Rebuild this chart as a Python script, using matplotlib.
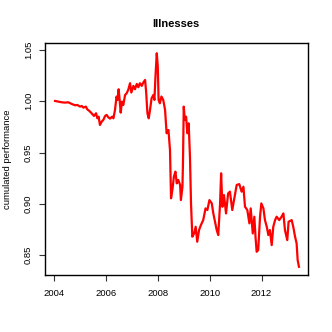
import matplotlib
matplotlib.use("Agg")
import matplotlib.pyplot as plt

# values (decimal year, cumulated performance)
years = [
    2004.04, 2004.17, 2004.30, 2004.42, 2004.55, 2004.68, 2004.81, 2004.90, 2005.00, 2005.07,
    2005.13, 2005.23, 2005.28, 2005.36, 2005.45, 2005.54, 2005.62, 2005.67, 2005.72, 2005.77,
    2005.84, 2005.90, 2005.97, 2006.03, 2006.09, 2006.16, 2006.24, 2006.29, 2006.35, 2006.41,
    2006.45, 2006.49, 2006.53, 2006.57, 2006.62, 2006.67, 2006.74, 2006.80, 2006.86, 2006.93,
    2006.98, 2007.06, 2007.12, 2007.19, 2007.25, 2007.31, 2007.38, 2007.44, 2007.51, 2007.55,
    2007.60, 2007.65, 2007.70, 2007.76, 2007.83, 2007.87, 2007.91, 2007.96, 2008.00, 2008.03,
    2008.08, 2008.14, 2008.21, 2008.28, 2008.34, 2008.41, 2008.47, 2008.51, 2008.57, 2008.62,
    2008.68, 2008.73, 2008.79, 2008.86, 2008.89, 2008.95, 2008.97, 2009.00, 2009.04, 2009.09,
    2009.14, 2009.19, 2009.24, 2009.28, 2009.33, 2009.40, 2009.46, 2009.52, 2009.59, 2009.66,
    2009.75, 2009.84, 2009.91, 2009.99, 2010.08, 2010.14, 2010.27, 2010.33, 2010.40, 2010.44,
    2010.49, 2010.55, 2010.63, 2010.71, 2010.78, 2010.87, 2010.95, 2011.04, 2011.14, 2011.23,
    2011.30, 2011.36, 2011.45, 2011.53, 2011.58, 2011.66, 2011.72, 2011.77, 2011.81, 2011.87,
    2011.94, 2011.99, 2012.07, 2012.13, 2012.20, 2012.26, 2012.32, 2012.39, 2012.45, 2012.52,
    2012.58, 2012.68, 2012.77, 2012.84, 2012.90, 2012.99, 2013.04, 2013.16, 2013.22, 2013.29,
    2013.35, 2013.39, 2013.44,
]
performance = [
    1.0003, 0.9997, 0.9990, 0.9987, 0.9990, 0.9974, 0.9961, 0.9964, 0.9948, 0.9954,
    0.9938, 0.9948, 0.9922, 0.9906, 0.9883, 0.9857, 0.9883, 0.9834, 0.9850, 0.9769,
    0.9802, 0.9818, 0.9857, 0.9867, 0.9844, 0.9831, 0.9850, 0.9834, 0.9915, 1.0046,
    1.0013, 1.0117, 1.0013, 0.9889, 0.9997, 0.9964, 1.0062, 1.0078, 1.0111, 1.0176,
    1.0085, 1.0150, 1.0117, 1.0169, 1.0137, 1.0176, 1.0150, 1.0182, 1.0208, 1.0094,
    0.9883, 0.9834, 0.9915, 1.0029, 1.0062, 1.0013, 1.0241, 1.0468, 1.0338, 1.0013,
    0.9980, 1.0046, 1.0013, 0.9915, 0.9688, 0.9720, 0.9525, 0.9054, 0.9151, 0.9265,
    0.9314, 0.9200, 0.9233, 0.9184, 0.9037, 0.9167, 0.9395, 0.9948, 0.9818, 0.9850,
    0.9688, 0.9785, 0.9460, 0.9005, 0.8680, 0.8712, 0.8777, 0.8631, 0.8745, 0.8793,
    0.8842, 0.8956, 0.8940, 0.9037, 0.9005, 0.8907, 0.8745, 0.8696, 0.9005, 0.9298,
    0.8972, 0.9086, 0.8907, 0.9102, 0.9119, 0.8940, 0.9054, 0.9184, 0.9193, 0.9119,
    0.9167, 0.8972, 0.8940, 0.8810, 0.8956, 0.8712, 0.8875, 0.8663, 0.8533, 0.8550,
    0.8875, 0.9005, 0.8956, 0.8842, 0.8777, 0.8696, 0.8745, 0.8598, 0.8777, 0.8842,
    0.8875, 0.8842, 0.8875, 0.8907, 0.8745, 0.8647, 0.8826, 0.8842, 0.8777, 0.8680,
    0.8615, 0.8452, 0.8387,
]

x_ticks = [2004, 2006, 2008, 2010, 2012]
y_ticks = [0.85, 0.90, 0.95, 1.00, 1.05]

plt.rcParams["font.family"] = ["Liberation Sans", "DejaVu Sans"]

fig = plt.figure(figsize=(3.32, 3.32), dpi=100)
ax = fig.add_axes([0.1365, 0.1708, 0.7921, 0.6988])

ax.plot(years, performance, color="#ff0000", linewidth=1.6, solid_joinstyle="round")

ax.set_xlim(2003.665, 2013.80)
ax.set_ylim(0.8304, 1.0565)
ax.set_xticks(x_ticks)
ax.set_xticklabels([str(t) for t in x_ticks])
ax.set_yticks(y_ticks)
ax.set_yticklabels([f"{t:.2f}" for t in y_ticks], rotation=90, va="center", ha="right")
ax.tick_params(direction="out", length=4, width=0.8, labelsize=6.8, color="#333333")
ax.tick_params(axis="x", pad=6)
ax.tick_params(axis="y", pad=5)

for spine in ax.spines.values():
    spine.set_linewidth(1.0)
    spine.set_color("black")

ax.set_ylabel("cumulated performance", fontsize=6.8)
ax.yaxis.set_label_coords(-0.128, 0.5)
fig.text(0.53, 0.928, "Illnesses", ha="center", va="center", fontsize=8, fontweight="bold")

fig.savefig("out.png", dpi=100)
